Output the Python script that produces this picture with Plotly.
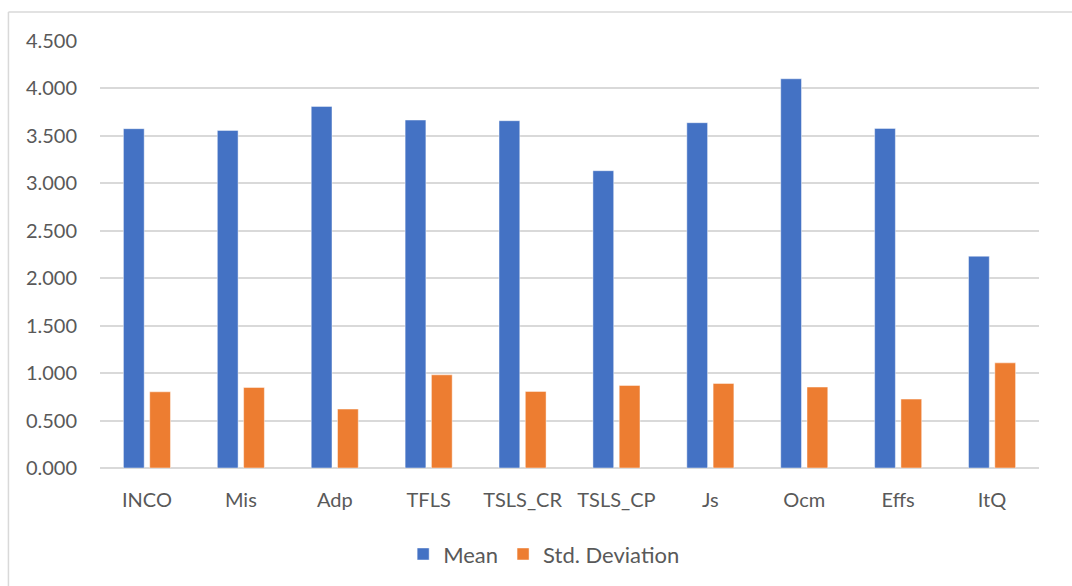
import plotly.graph_objects as go

# Construct means and standard deviations
categories = ["INCO", "Mis", "Adp", "TFLS", "TSLS_CR", "TSLS_CP", "Js", "Ocm", "Effs", "ItQ"]
mean_values = [3.576, 3.558, 3.811, 3.667, 3.660, 3.133, 3.639, 4.102, 3.579, 2.232]
std_values = [0.803, 0.849, 0.621, 0.982, 0.807, 0.870, 0.891, 0.853, 0.726, 1.108]
y_ticks = [0.0, 0.5, 1.0, 1.5, 2.0, 2.5, 3.0, 3.5, 4.0, 4.5]

FONT = "Lato, 'Open Sans', sans-serif"
TEXT = "#595959"
GRID = "#d9d9d9"

fig = go.Figure()
fig.add_trace(go.Bar(
    name="Mean", x=categories, y=mean_values,
    marker=dict(color="#4472C4", line=dict(color="rgba(255,255,255,0.45)", width=1)),
))
fig.add_trace(go.Bar(
    name="Std. Deviation", x=categories, y=std_values,
    marker=dict(color="#ED7D31", line=dict(color="rgba(255,255,255,0.45)", width=1)),
))

# Chart-area frame: a light border along the top and left edges
fig.add_shape(type="line", xref="paper", yref="paper",
              x0=-0.0975, y0=1.068, x1=1.2, y1=1.068,
              line=dict(color=GRID, width=1.5))
fig.add_shape(type="line", xref="paper", yref="paper",
              x0=-0.0975, y0=1.068, x1=-0.0975, y1=-0.4,
              line=dict(color=GRID, width=1.5))

fig.update_layout(
    width=1072, height=586,
    margin=dict(l=100, r=33, t=41, b=117),
    paper_bgcolor="white", plot_bgcolor="white",
    barmode="group", bargap=0.44, bargroupgap=0.21,
    font=dict(family=FONT, size=20, color=TEXT),
    showlegend=True,
    legend=dict(
        orientation="h", x=0.473, xanchor="center", y=-0.199, yanchor="middle",
        font=dict(family=FONT, size=22, color=TEXT),
        itemwidth=30, traceorder="normal",
    ),
    xaxis=dict(
        showgrid=False, showline=False, zeroline=False,
        ticks="outside", ticklen=14, tickcolor="rgba(0,0,0,0)",
        tickfont=dict(family=FONT, size=20, color=TEXT),
    ),
    yaxis=dict(
        range=[0, 4.5], tickvals=y_ticks, tickformat=".3f",
        showgrid=True, gridcolor=GRID, gridwidth=1.5,
        zeroline=True, zerolinecolor=GRID, zerolinewidth=1.5,
        showline=False,
        ticks="outside", ticklen=18, tickcolor="rgba(0,0,0,0)",
        tickfont=dict(family=FONT, size=20, color=TEXT),
    ),
)

fig.write_html("out.html")
